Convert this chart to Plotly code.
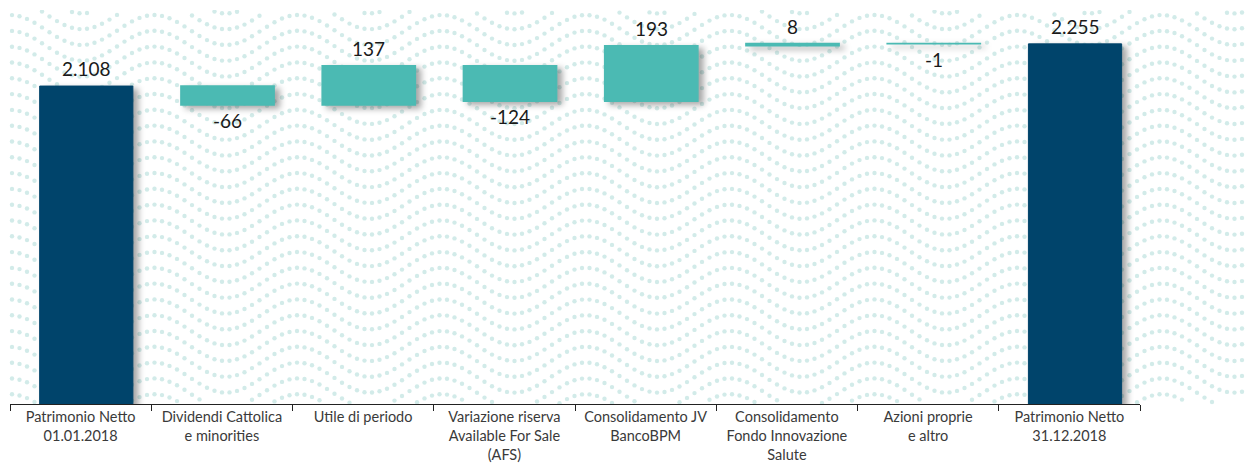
import base64
import math
import plotly.graph_objects as go

# ---- data ----
categories = [
    "Patrimonio Netto<br>01.01.2018",
    "Dividendi Cattolica<br>e minorities",
    "Utile di periodo",
    "Variazione riserva<br>Available For Sale<br>(AFS)",
    "Consolidamento JV<br>BancoBPM",
    "Consolidamento<br>Fondo Innovazione<br>Salute",
    "Azioni proprie<br>e altro",
    "Patrimonio Netto<br>31.12.2018",
]
measures = ["absolute", "relative", "relative", "relative", "relative", "relative", "relative", "total"]
values = [2108, -66, 137, -124, 193, 8, -1, 2255]

NAVY = "#00446B"
TEAL = "#4BBAB3"
DOT = "#D2EBE9"

W, H = 1248, 465
L, R, T, B = 10, 108, 10, 61
plot_w = W - L - R
plot_h = H - T - B

# ---- decorative wavy dotted background (SVG) ----
bg_top, bg_bot = 10, 405
bg_h = bg_bot - bg_top
circles = []
row_gap, col_gap, amp, period, phase = 15.8, 7.5, 15.0, 144.0, 298.0
r = -3
while True:
    base = 5 + amp + r * row_gap
    if base - amp > bg_h + 5:
        break
    x = 12.0
    while x < W:
        y = base - amp * math.cos(2 * math.pi * (x - phase) / period)
        if 1.5 <= y <= bg_h - 1.5:
            circles.append(f'<circle cx="{x:.1f}" cy="{y:.1f}" r="2.2"/>')
        x += col_gap
    r += 1
svg = (f'<svg xmlns="http://www.w3.org/2000/svg" width="{W}" height="{bg_h}" '
       f'viewBox="0 0 {W} {bg_h}"><g fill="{DOT}">' + "".join(circles) + "</g></svg>")
src = "data:image/svg+xml;base64," + base64.b64encode(svg.encode()).decode()

BAR_W = 0.66
BAR_OFF = 0.04

fig = go.Figure()
fig.add_trace(go.Waterfall(
    x=categories,
    y=values,
    measure=measures,
    width=BAR_W,
    offset=-BAR_W / 2 + BAR_OFF,
    totals=dict(marker=dict(color=NAVY, line=dict(color=NAVY, width=1))),
    increasing=dict(marker=dict(color=TEAL, line=dict(color=TEAL, width=1.5))),
    decreasing=dict(marker=dict(color=TEAL, line=dict(color=TEAL, width=1.5))),
    connector=dict(visible=False),
    showlegend=False,
    hoverinfo="x+y",
))

# data labels
def fmt(v):
    return f"{v:,}".replace(",", ".")

cum = 0
annotations = []
for cat, m, v in zip(categories, measures, values):
    if m == "absolute":
        cum = v
        y, above = v, True
    elif m == "total":
        y, above = cum, True
        v = cum
    else:
        cum += v
        y, above = cum, v >= 0
    annotations.append(dict(
        x=cat, y=y, xref="x", yref="y", text=fmt(v), showarrow=False,
        xshift=BAR_OFF * plot_w / len(categories),
        yanchor="bottom" if above else "top", yshift=4 if above else -2,
        font=dict(family="Lato, sans-serif", size=19, color="#1a1a1a"),
    ))

fig.update_layout(
    width=W, height=H,
    margin=dict(l=L, r=R, t=T, b=B, autoexpand=False),
    paper_bgcolor="white",
    plot_bgcolor="rgba(0,0,0,0)",
    annotations=annotations,
    images=[dict(
        source=src, xref="paper", yref="paper",
        x=-L / plot_w, y=(H - B - bg_top) / plot_h,
        sizex=W / plot_w, sizey=bg_h / plot_h,
        xanchor="left", yanchor="top", sizing="stretch", layer="below",
    )],
    xaxis=dict(
        automargin=False,
        showline=True, linecolor="#222", linewidth=1,
        ticks="outside", tickson="boundaries", ticklen=6, tickcolor="#222",
        showgrid=False, zeroline=False,
        tickfont=dict(family="Lato, sans-serif", size=14.5, color="#3a3a3a"),
    ),
    yaxis=dict(visible=False, automargin=False, range=[1000, 2373],
               showgrid=False, zeroline=False),
    font=dict(family="Lato, sans-serif"),
)

post = (
    "document.body.style.margin='0';"
    "document.querySelectorAll('.waterfalllayer .point path').forEach(function(p){"
    "p.style.filter='drop-shadow(5px 3px 3px rgba(0,0,0,0.35))';});"
)
fig.write_html("out.html", config={"displayModeBar": False}, post_script=post)
